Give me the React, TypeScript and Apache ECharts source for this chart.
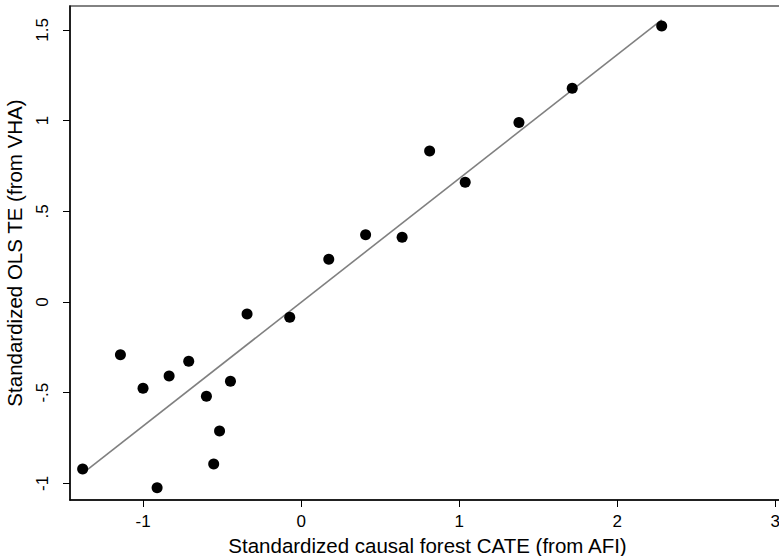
import React, { useEffect, useRef } from "react";
import * as echarts from "echarts";

const xValues = [-1.382, -1.143, -1.0, -0.911, -0.835, -0.711, -0.599, -0.553, -0.516, -0.447, -0.342, -0.072, 0.175, 0.408, 0.639, 0.813, 1.038, 1.378, 1.715, 2.281];
const yValues = [-0.921, -0.291, -0.476, -1.024, -0.408, -0.327, -0.52, -0.893, -0.711, -0.437, -0.066, -0.084, 0.235, 0.371, 0.357, 0.833, 0.66, 0.989, 1.178, 1.522];
const fitLine = [
  [-1.382, -0.945],
  [2.281, 1.555],
];
const xTicks = [-1, 0, 1, 2, 3];
const yTicks = [-1, -0.5, 0, 0.5, 1, 1.5];
const yTickLabels: Record<string, string> = { "-1": "-1", "-0.5": "-.5", "0": "0", "0.5": ".5", "1": "1", "1.5": "1.5" };
const xTitle = "Standardized causal forest CATE (from AFI)";
const yTitle = "Standardized OLS TE (from VHA)";

const FONT = "'Liberation Sans', Arial, sans-serif";

export default function App() {
  const ref = useRef<HTMLDivElement>(null);
  useEffect(() => {
    if (!ref.current) return;
    const chart = echarts.init(ref.current, undefined, { renderer: "svg" });
    const points = xValues.map((x, i) => [x, yValues[i]]);
    chart.setOption({
      animation: false,
      backgroundColor: "#ffffff",
      grid: {
        left: 70,
        top: 6,
        right: -6,
        bottom: 56,
        containLabel: false,
        outerBoundsMode: "none",
        show: true,
        borderColor: "#5a5a5a",
        borderWidth: 1.5,
        backgroundColor: "transparent",
      },
      xAxis: {
        type: "value",
        min: -1.462,
        max: 3.061,
        name: xTitle,
        nameLocation: "middle",
        nameGap: 33,
        nameTextStyle: { fontFamily: FONT, fontSize: 20.5, color: "#000" },
        axisLine: { show: true, onZero: false, lineStyle: { color: "#000", width: 1.5 } },
        axisTick: { show: true, customValues: xTicks, length: 7, lineStyle: { color: "#000", width: 1 } },
        axisLabel: {
          customValues: xTicks,
          margin: 13,
          fontFamily: FONT,
          fontSize: 17,
          color: "#000",
          formatter: (v: number) => String(v),
        },
        splitLine: { show: false },
      },
      yAxis: {
        type: "value",
        min: -1.092,
        max: 1.632,
        name: yTitle,
        nameLocation: "middle",
        nameGap: 45,
        nameTextStyle: { fontFamily: FONT, fontSize: 20.5, color: "#000" },
        axisLine: { show: true, onZero: false, lineStyle: { color: "#000", width: 1.5 } },
        axisTick: { show: true, customValues: yTicks, length: 7, lineStyle: { color: "#000", width: 1 } },
        axisLabel: {
          customValues: yTicks,
          rotate: 90,
          margin: 19,
          fontFamily: FONT,
          fontSize: 17,
          color: "#000",
          formatter: (v: number) => yTickLabels[String(v)] ?? String(v),
        },
        splitLine: { show: false },
      },
      series: [
        {
          type: "line",
          data: fitLine,
          symbol: "none",
          lineStyle: { color: "#808080", width: 1.6 },
          z: 2,
        },
        {
          type: "scatter",
          data: points,
          symbol: "circle",
          symbolSize: 11,
          itemStyle: { color: "#000", opacity: 1 },
          z: 3,
        },
      ],
    });
    return () => chart.dispose();
  }, []);
  return (
    <div
      ref={ref}
      style={{ position: "fixed", left: 0, top: 0, width: 779, height: 556, background: "#fff" }}
    />
  );
}
